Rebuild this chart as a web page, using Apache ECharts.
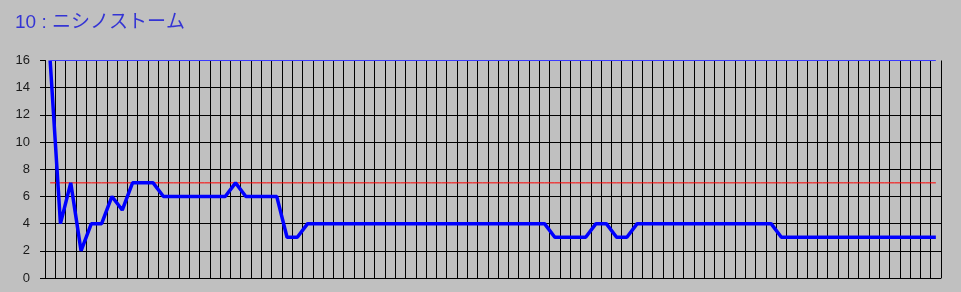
<!DOCTYPE html>
<html>
<head>
<meta charset="utf-8">
<script src="https://cdn.jsdelivr.net/npm/echarts@6/dist/echarts.min.js"></script>
<style>
html,body{margin:0;padding:0;background:#c0c0c0;}
#c{width:961px;height:292px;}
</style>
</head>
<body>
<div id="c"></div>
<script>
var titleText = "10 : ニシノストーム";
var categories = ["1","2","3","4","5","6","7","8","9","10","11","12","13","14","15","16","17","18","19","20",
"21","22","23","24","25","26","27","28","29","30","31","32","33","34","35","36","37","38","39","40",
"41","42","43","44","45","46","47","48","49","50","51","52","53","54","55","56","57","58","59","60",
"61","62","63","64","65","66","67","68","69","70","71","72","73","74","75","76","77","78","79","80",
"81","82","83","84","85","86","87"];
var rankValues = [16,4,7,2,4,4,6,5,7,7,
7,6,6,6,6,6,6,6,7,6,
6,6,6,3,3,4,4,4,4,4,
4,4,4,4,4,4,4,4,4,4,
4,4,4,4,4,4,4,4,4,3,
3,3,3,4,4,3,3,4,4,4,
4,4,4,4,4,4,4,4,4,4,
4,3,3,3,3,3,3,3,3,3,
3,3,3,3,3,3,3];
var refValue = 7;
var topValue = 16;
var yTicks = [0,2,4,6,8,10,12,14,16];

var refLine = categories.map(function(){return refValue;});
var topLine = categories.map(function(){return topValue;});

var chart = echarts.init(document.getElementById('c'), null, {renderer:'canvas'});
chart.setOption({
  backgroundColor:'#c0c0c0',
  animation:false,
  title:{
    text:titleText, left:10, top:8,
    textStyle:{color:'#3434d4', fontSize:19, fontWeight:'normal', fontFamily:'Liberation Sans, Noto Sans CJK JP, sans-serif'}
  },
  grid:{left:45, right:20, top:60.5, bottom:14, containLabel:false},
  xAxis:{
    type:'category', data:categories, boundaryGap:true,
    axisLine:{show:true, lineStyle:{color:'#000', width:1}},
    axisTick:{show:false},
    axisLabel:{show:false},
    splitLine:{show:true, interval:0, lineStyle:{color:'#000', width:1}}
  },
  yAxis:{
    type:'value', min:yTicks[0], max:yTicks[yTicks.length-1], interval:2,
    axisLine:{show:true, lineStyle:{color:'#000', width:1}},
    axisTick:{show:true, length:5, lineStyle:{color:'#000'}},
    axisLabel:{show:true, margin:15, color:'#1a1a1a', fontSize:13, fontFamily:'Liberation Sans, Arial, sans-serif'},
    splitLine:{show:true, showMaxLine:false, lineStyle:{color:'#000', width:1}}
  },
  series:[
    {type:'line', data:topLine, symbol:'none', clip:false, lineStyle:{color:'#3a3aff', width:1.2}, z:5},
    {type:'line', data:refLine, symbol:'none', lineStyle:{color:'#ff0000', width:1}, z:3},
    {type:'line', data:rankValues, symbol:'none', clip:false, lineStyle:{color:'#0000ff', width:3.5}, z:4}
  ]
});
</script>
</body>
</html>
